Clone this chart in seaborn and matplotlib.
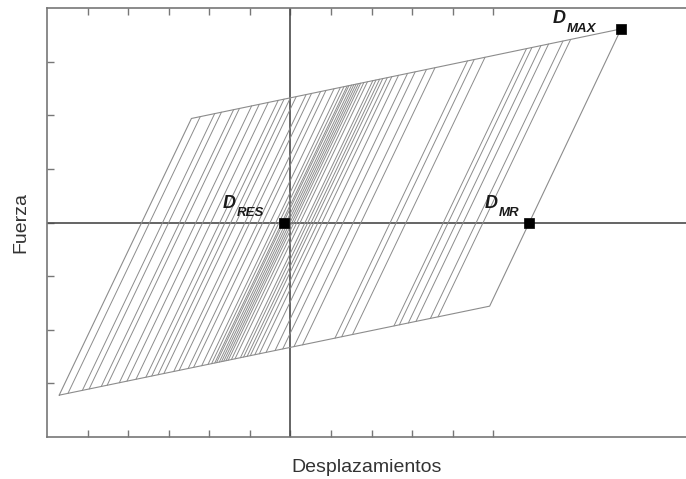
import numpy as np
import pandas as pd
import matplotlib
matplotlib.use("Agg")
import matplotlib.pyplot as plt
import seaborn as sns

# ---------------- data ----------------
# envelope (parallelogram) corners: lower-left, upper-left, D_MAX, lower-right
env_x = [-5.70, -2.44, 8.15, 4.91, -5.70]
env_y = [-3.22, 1.94, 3.61, -1.56, -3.22]

# zero-force displacement of each interior elastic branch
branch_zero_x = [-3.47, -3.15, -3.00, -2.73, -2.60, -2.33, -2.16, -1.96,
                 -1.74, -1.61, -1.47, -1.34, -1.12, -1.00, -0.80, -0.68,
                 -0.50, -0.36, -0.28, -0.21, -0.17, -0.11, -0.06, -0.01,
                 0.04, 0.09, 0.16, 0.24, 0.36, 0.43, 0.51, 0.58, 0.68,
                 0.78, 0.93, 1.13, 1.30, 1.55, 1.74, 2.46, 2.61, 2.85,
                 3.77, 3.89, 4.09, 4.26, 4.58, 4.75]

pt_names = ["MAX", "MR", "RES"]
pt_x = [8.15, 5.88, -0.17]
pt_y = [3.61, 0.0, 0.0]
# label offsets in pixels: (D dx, D dy, sub dx, sub dy)
pt_label_off = [(-68, 6, -54, -3), (-44, 15, -30, 6), (-61, 15, -47, 6)]

x_ticks = [-5, -4, -3, -2, -1, 0, 1, 2, 3, 4, 5]
y_ticks = [-3, -2, -1, 0, 1, 2, 3]
x_lim = (-6.0, 9.75)
y_lim = (-4.0, 4.0)

# ---------------- build branch segments ----------------
k = (env_y[1] - env_y[0]) / (env_x[1] - env_x[0])          # elastic stiffness
a_low = (env_y[3] - env_y[0]) / (env_x[3] - env_x[0])      # lower envelope slope
a_up = (env_y[2] - env_y[1]) / (env_x[2] - env_x[1])       # upper envelope slope


def meet(c, x0, y0, a):
    return (k * c + y0 - a * x0) / (k - a)


rows = []
for i, c in enumerate(branch_zero_x):
    xb = meet(c, env_x[0], env_y[0], a_low)
    xt = meet(c, env_x[1], env_y[1], a_up)
    rows.append((i, xb, k * (xb - c)))
    rows.append((i, xt, k * (xt - c)))
df = pd.DataFrame(rows, columns=["branch", "x", "y"])
env_df = pd.DataFrame({"x": env_x, "y": env_y})
pts_df = pd.DataFrame({"x": pt_x, "y": pt_y})

# ---------------- plot ----------------
sns.set_style("ticks")
plt.rcParams["font.family"] = ["Liberation Sans", "DejaVu Sans"]

fig = plt.figure(figsize=(6.86, 4.79), dpi=100)
ax = fig.add_axes([47 / 686, 42 / 479, 1 - 47 / 686, (437 - 8) / 479])

ax.axhline(0, color="#4a4a4a", lw=1.2, zorder=1)
ax.axvline(0, color="#4a4a4a", lw=1.2, zorder=1)

line_col = "#8c8c8c"
sns.lineplot(data=df, x="x", y="y", units="branch", estimator=None, sort=False,
             color=line_col, lw=0.7, ax=ax, legend=False, zorder=2)
sns.lineplot(data=env_df, x="x", y="y", estimator=None, sort=False,
             color=line_col, lw=0.8, ax=ax, legend=False, zorder=2)
sns.scatterplot(data=pts_df, x="x", y="y", marker="s", s=55, color="black",
                edgecolor="black", linewidth=0.5, ax=ax, zorder=5, legend=False)

for name, x, y, (dx, dy, sx, sy) in zip(pt_names, pt_x, pt_y, pt_label_off):
    ax.annotate("D", (x, y), xytext=(dx, dy), textcoords="offset pixels",
                ha="left", va="baseline", fontsize=13, fontweight="bold",
                fontstyle="italic", color="#1a1a1a", zorder=6)
    ax.annotate(name, (x, y), xytext=(sx, sy), textcoords="offset pixels",
                ha="left", va="baseline", fontsize=9.5, fontweight="bold",
                fontstyle="italic", color="#1a1a1a", zorder=6)

ax.set_xlim(*x_lim)
ax.set_ylim(*y_lim)
ax.set_xticks(x_ticks)
ax.set_yticks(y_ticks)
ax.set_xticklabels([])
ax.set_yticklabels([])
ax.tick_params(axis="x", direction="in", length=5, width=1, color="#777777",
               top=True, bottom=True)
ax.tick_params(axis="y", direction="in", length=5, width=1, color="#777777",
               left=True, right=False)

for s in ["left", "bottom", "top"]:
    ax.spines[s].set_color("#777777")
    ax.spines[s].set_linewidth(1.2)
ax.spines["right"].set_visible(False)

ax.set_xlabel("Desplazamientos", fontsize=14, color="#333333", labelpad=12)
ax.set_ylabel("Fuerza", fontsize=14, color="#333333", labelpad=9)

fig.savefig("out.png", dpi=100)
